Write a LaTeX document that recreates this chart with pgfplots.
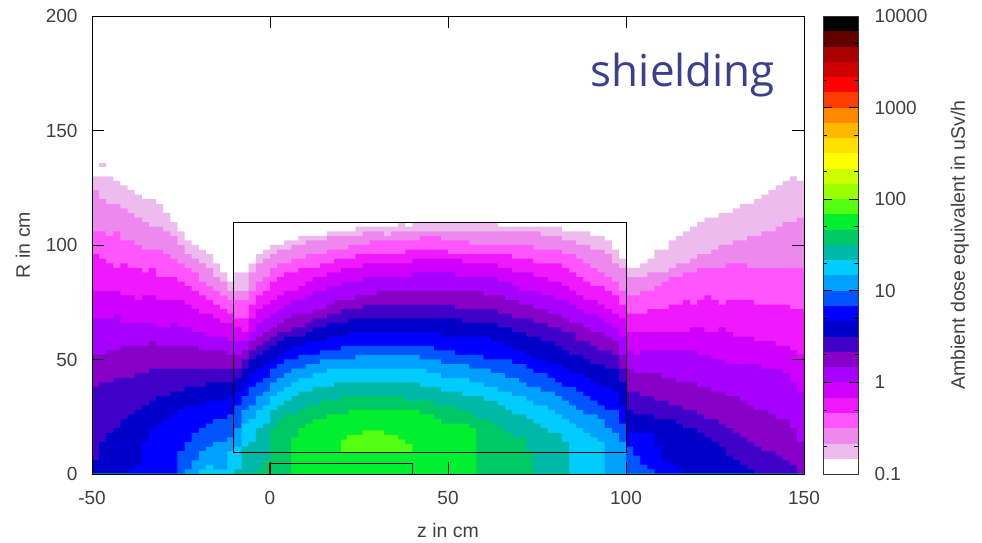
\documentclass[border=0pt]{standalone}
\usepackage{pgfplots}
\usepackage{pgfplotstable}
\usepackage{fontspec}
\setmainfont{Liberation Sans}
\newfontfamily\titlefont{Open Sans}
\pgfplotsset{compat=1.18}
\definecolor{txt}{HTML}{404040}
\definecolor{shield}{HTML}{3B3F8C}
\definecolor{c1}{HTML}{EEBBEE}\definecolor{c2}{HTML}{EE88EE}\definecolor{c3}{HTML}{FF55FF}
\definecolor{c4}{HTML}{F018FF}\definecolor{c5}{HTML}{D000FF}\definecolor{c6}{HTML}{A800FF}
\definecolor{c7}{HTML}{8800C8}\definecolor{c8}{HTML}{4000C8}\definecolor{c9}{HTML}{0000C8}
\definecolor{c10}{HTML}{0000FF}\definecolor{c11}{HTML}{0055FF}\definecolor{c12}{HTML}{00A0FF}
\definecolor{c13}{HTML}{00CCFF}\definecolor{c14}{HTML}{00B8A8}\definecolor{c15}{HTML}{00C864}
\definecolor{c16}{HTML}{00F030}\definecolor{c17}{HTML}{55FF10}\definecolor{c18}{HTML}{99FF00}
\definecolor{c19}{HTML}{CCFF00}\definecolor{c20}{HTML}{FFFF00}\definecolor{c21}{HTML}{FFE000}
\definecolor{c22}{HTML}{FFB800}\definecolor{c23}{HTML}{FF8800}\definecolor{c24}{HTML}{FF3C00}
\definecolor{c25}{HTML}{FF0000}\definecolor{c26}{HTML}{D00000}\definecolor{c27}{HTML}{A80000}
\definecolor{c28}{HTML}{600000}\definecolor{c29}{HTML}{000000}
\pgfplotstableread{
z a b c d e f g h i j k l m n o p
-50 130 124 106 96 80 68 52 38 6 0 0 0 0 0 0 0
-48 130 120 106 94 80 68 52 40 14 0 0 0 0 0 0 0
-46 130 118 104 92 80 68 54 40 18 0 0 0 0 0 0 0
-44 128 118 106 90 80 70 54 42 20 0 0 0 0 0 0 0
-42 126 116 102 92 78 66 56 42 24 0 0 0 0 0 0 0
-40 124 114 102 90 78 66 56 42 26 2 0 0 0 0 0 0
-38 122 112 100 90 76 66 56 44 28 4 0 0 0 0 0 0
-36 120 110 98 88 78 66 56 44 30 14 0 0 0 0 0 0
-34 120 108 98 90 78 66 58 46 32 20 0 0 0 0 0 0
-32 118 108 98 86 76 64 56 46 34 22 0 0 0 0 0 0
-30 114 106 96 86 76 64 56 46 34 24 0 0 0 0 0 0
-28 110 104 94 86 76 66 56 46 36 26 0 0 0 0 0 0
-26 106 100 92 84 76 64 56 46 36 28 10 0 0 0 0 0
-24 102 96 90 82 74 64 56 46 38 30 14 2 0 0 0 0
-22 100 94 88 80 72 62 56 46 38 30 18 6 0 0 0 0
-20 98 92 84 78 70 62 54 46 38 30 20 10 2 0 0 0
-18 96 90 82 76 70 60 54 46 40 32 22 12 4 0 0 0
-16 92 86 80 74 68 60 54 46 40 32 24 14 2 0 0 0
-14 88 84 78 72 66 60 54 46 40 32 24 14 2 0 0 0
-12 84 80 76 70 66 58 52 46 40 34 26 16 10 0 0 0
-10 88 80 76 68 64 58 52 46 42 36 30 20 12 2 0 0
-8 88 80 76 68 62 58 54 50 46 40 34 28 22 12 0 0
-6 92 88 80 74 68 62 58 54 50 44 38 30 24 14 0 0
-4 96 92 84 78 72 66 60 56 52 46 40 34 28 20 2 0
-2 98 94 86 80 74 68 62 58 54 48 42 36 30 22 6 0
0 100 96 90 84 76 70 64 60 56 50 46 40 34 28 20 0
2 100 98 92 86 78 72 66 62 58 52 48 42 36 30 24 0
4 102 98 92 88 80 74 68 62 60 54 50 44 38 32 26 0
6 102 100 94 88 80 76 70 64 60 56 50 46 40 34 26 16
8 104 100 94 90 82 76 70 64 60 56 52 46 42 36 28 20
10 104 102 96 90 84 78 70 66 62 58 52 48 42 36 30 22
12 104 102 96 90 86 80 72 68 64 58 52 48 44 38 30 24
14 104 102 96 92 86 80 72 68 64 58 54 50 44 38 32 24
16 106 104 98 92 88 82 74 70 66 60 54 50 46 38 32 26
18 106 104 98 94 88 82 76 70 66 60 54 50 46 40 32 26
20 106 104 98 94 90 84 76 72 66 60 56 50 46 40 34 26
22 106 104 100 94 90 84 76 72 68 62 56 50 46 40 34 28
24 108 104 100 96 90 84 78 72 68 62 56 52 46 40 34 28
26 108 106 100 96 92 86 78 74 68 62 56 52 46 40 34 28
28 108 106 102 96 92 86 78 74 68 62 56 52 46 40 34 28
30 108 106 102 96 92 86 80 74 68 62 56 52 46 40 34 28
32 108 104 102 96 92 86 80 74 68 62 56 52 46 40 34 28
34 108 106 102 96 92 86 80 74 68 62 56 52 46 40 34 28
36 110 106 102 96 92 86 80 74 68 62 56 52 46 40 34 28
38 108 106 102 98 92 86 80 74 68 62 56 52 46 40 32 28
40 110 106 102 98 94 88 80 74 68 62 56 52 46 40 32 28
42 110 106 104 98 94 88 80 74 68 62 56 50 46 38 32 26
44 110 106 104 98 94 88 80 74 68 62 56 50 44 38 32 26
46 110 106 104 98 94 88 80 74 68 62 54 50 44 38 30 24
48 110 106 102 98 94 88 80 74 68 60 54 48 42 36 30 22
50 110 106 102 96 94 88 80 74 68 60 54 48 42 36 30 22
52 110 106 102 96 94 86 80 72 68 60 52 48 42 36 28 22
54 110 106 102 96 92 86 80 72 66 60 52 48 42 34 28 22
56 110 106 100 96 92 86 80 72 66 60 52 46 40 34 26 20
58 110 106 100 96 92 86 80 72 66 60 52 46 40 34 24 0
60 110 106 100 96 92 86 78 72 66 60 50 46 38 32 24 0
62 110 106 100 96 92 86 78 72 66 58 50 44 38 32 22 0
64 108 106 100 96 90 84 78 70 64 58 50 44 36 30 20 0
66 108 106 100 96 90 84 76 70 64 56 50 42 36 28 18 0
68 108 106 100 94 88 82 76 68 62 54 48 42 34 26 16 0
70 108 106 100 94 88 80 74 68 62 54 48 40 34 26 16 0
72 108 106 100 94 88 80 74 68 60 52 46 38 32 24 10 0
74 108 106 98 92 86 80 72 66 60 50 44 38 30 22 0 0
76 108 104 98 92 86 78 72 66 58 50 44 36 30 20 0 0
78 108 104 98 92 84 78 70 64 58 48 42 36 28 18 0 0
80 108 104 98 92 84 76 70 64 56 48 40 34 26 18 0 0
82 106 102 96 90 82 76 68 62 54 46 38 32 24 14 0 0
84 106 102 96 88 80 74 66 62 52 44 38 30 22 0 0 0
86 106 100 94 86 78 72 66 58 52 44 36 28 20 0 0 0
88 106 100 92 84 76 70 64 58 50 42 34 26 18 0 0 0
90 104 98 90 82 76 70 62 56 48 40 32 26 16 0 0 0
92 104 98 88 82 74 68 62 54 48 38 30 24 14 0 0 0
94 102 96 86 80 72 66 60 54 46 38 28 20 0 0 0 0
96 98 92 84 78 70 64 58 52 46 36 28 18 0 0 0 0
98 94 90 80 74 68 60 52 46 40 30 22 14 0 0 0 0
100 90 86 78 70 62 54 46 36 28 18 12 0 0 0 0 0
102 90 86 78 70 62 52 44 36 26 18 8 0 0 0 0 0
104 92 86 80 70 62 54 44 34 26 18 4 0 0 0 0 0
106 94 88 80 72 62 54 44 34 26 18 2 0 0 0 0 0
108 98 88 82 72 62 54 44 32 24 12 0 0 0 0 0 0
110 98 88 84 72 62 54 42 32 24 6 0 0 0 0 0 0
112 102 90 86 74 62 54 42 30 24 4 0 0 0 0 0 0
114 104 92 86 74 62 54 40 30 22 2 0 0 0 0 0 0
116 106 92 88 76 62 54 40 28 20 0 0 0 0 0 0 0
118 108 94 88 74 64 54 40 28 20 0 0 0 0 0 0 0
120 110 96 90 76 64 52 38 26 18 0 0 0 0 0 0 0
122 112 96 90 78 62 52 38 24 16 0 0 0 0 0 0 0
124 112 98 90 76 62 50 36 24 14 0 0 0 0 0 0 0
126 114 100 90 74 64 50 36 22 12 0 0 0 0 0 0 0
128 114 100 92 76 62 48 34 20 8 0 0 0 0 0 0 0
130 116 102 92 76 60 48 34 18 6 0 0 0 0 0 0 0
132 118 102 92 76 60 48 32 16 4 0 0 0 0 0 0 0
134 118 104 90 76 60 48 30 14 2 0 0 0 0 0 0 0
136 120 104 90 74 58 48 28 12 0 0 0 0 0 0 0 0
138 122 106 90 74 58 46 28 10 0 0 0 0 0 0 0 0
140 124 106 90 74 58 46 26 10 0 0 0 0 0 0 0 0
142 126 108 90 74 56 46 24 8 0 0 0 0 0 0 0 0
144 128 110 90 74 56 44 24 6 0 0 0 0 0 0 0 0
146 130 110 90 72 54 40 20 4 0 0 0 0 0 0 0 0
148 128 112 90 72 52 36 14 0 0 0 0 0 0 0 0 0
150 128 112 90 72 52 36 14 0 0 0 0 0 0 0 0 0
}\bands
\pgfplotsset{band/.style={const plot mark left,draw=none,forget plot}}
\begin{document}
\begin{tikzpicture}[x=1pt,y=1pt]
\path[use as bounding box] (0,0) rectangle (982,543);
\begin{axis}[
  name=main,at={(92pt,69pt)},anchor=south west,
  scale only axis,width=712pt,height=458pt,
  xmin=-50,xmax=150,ymin=0,ymax=200,
  xtick={-50,0,50,100,150},xticklabels={-50,0,50,100,150},
  ytick={0,50,100,150,200},yticklabels={0,50,100,150,200},
  tick pos=both,tick align=inside,major tick length=12pt,
  tick style={black,line width=0.8pt},
  axis line style={black,line width=0.9pt},
  axis on top,
  tick label style={font=\fontsize{19}{21}\selectfont,text=txt},
  xticklabel style={yshift=-14pt},
  yticklabel style={xshift=-11pt},
  xlabel={z in cm},ylabel={R in cm},
  label style={font=\fontsize{19.5}{22}\selectfont,text=txt},
  xlabel style={at={(axis description cs:0.5,-0.1245)},anchor=center},
  ylabel style={at={(axis description cs:-0.097,0.5)},anchor=center},
]
\addplot[band,fill=c1] table[x index=0,y index=1]{\bands}\closedcycle;
\addplot[band,fill=c2] table[x index=0,y index=2]{\bands}\closedcycle;
\addplot[band,fill=c3] table[x index=0,y index=3]{\bands}\closedcycle;
\addplot[band,fill=c4] table[x index=0,y index=4]{\bands}\closedcycle;
\addplot[band,fill=c5] table[x index=0,y index=5]{\bands}\closedcycle;
\addplot[band,fill=c6] table[x index=0,y index=6]{\bands}\closedcycle;
\addplot[band,fill=c7] table[x index=0,y index=7]{\bands}\closedcycle;
\addplot[band,fill=c8] table[x index=0,y index=8]{\bands}\closedcycle;
\addplot[band,fill=c9] table[x index=0,y index=9]{\bands}\closedcycle;
\addplot[band,fill=c10] table[x index=0,y index=10]{\bands}\closedcycle;
\addplot[band,fill=c11] table[x index=0,y index=11]{\bands}\closedcycle;
\addplot[band,fill=c12] table[x index=0,y index=12]{\bands}\closedcycle;
\addplot[band,fill=c13] table[x index=0,y index=13]{\bands}\closedcycle;
\addplot[band,fill=c14] table[x index=0,y index=14]{\bands}\closedcycle;
\addplot[band,fill=c15] table[x index=0,y index=15]{\bands}\closedcycle;
\addplot[band,fill=c16] table[x index=0,y index=16]{\bands}\closedcycle;
\addplot[draw=none,fill=c17,forget plot] coordinates {(20,9.3)(20,15)(21.5,15)(21.5,17)(26,17)(26,19)(32,19)(32,17)(36,17)(36,15)(38,15)(38,13)(40,13)(40,9.3)} --cycle;
\addplot[draw=none,fill=c1,forget plot] coordinates {(-48,134)(-46,134)(-46,136)(-48,136)} --cycle;
\addplot[black,line width=0.8pt,forget plot] coordinates {(-10.4,9.3)(100,9.3)(100,109.7)(-10.4,109.7)(-10.4,9.3)};
\addplot[black,line width=0.8pt,forget plot] coordinates {(-0.3,0)(-0.3,4.5)(39.9,4.5)(39.9,0)};
\node[font=\titlefont\fontsize{44}{50}\selectfont,text=shield] at (axis cs:116,174) {shielding};
\end{axis}
\begin{axis}[
  at={(823pt,69pt)},anchor=south west,
  scale only axis,width=35pt,height=458pt,
  xmin=0,xmax=1,ymode=log,ymin=0.1,ymax=10000,
  xtick=\empty,
  ytick={0.1,1,10,100,1000,10000},yticklabels={0.1,1,10,100,1000,10000},
  minor ytick={0.2,0.5,2,5,20,50,200,500,2000,5000},
  tick pos=both,yticklabel pos=right,tick align=inside,
  major tick length=9pt,minor tick length=4pt,
  tick style={black,line width=0.7pt},
  axis line style={black!80,line width=0.9pt},
  axis on top,
  tick label style={font=\fontsize{19}{21}\selectfont,text=txt},
  yticklabel style={xshift=13pt},
  ylabel={Ambient dose equivalent in uSv/h},
  label style={font=\fontsize{19.5}{22}\selectfont,text=txt},
  ylabel style={at={(axis description cs:3.91,0.5)},anchor=center},
]
\addplot[draw=none,fill=c1,forget plot] coordinates {(0,0.147)(1,0.147)(1,0.215)(0,0.215)} --cycle;
\addplot[draw=none,fill=c2,forget plot] coordinates {(0,0.215)(1,0.215)(1,0.316)(0,0.316)} --cycle;
\addplot[draw=none,fill=c3,forget plot] coordinates {(0,0.316)(1,0.316)(1,0.464)(0,0.464)} --cycle;
\addplot[draw=none,fill=c4,forget plot] coordinates {(0,0.464)(1,0.464)(1,0.681)(0,0.681)} --cycle;
\addplot[draw=none,fill=c5,forget plot] coordinates {(0,0.681)(1,0.681)(1,1)(0,1)} --cycle;
\addplot[draw=none,fill=c6,forget plot] coordinates {(0,1)(1,1)(1,1.47)(0,1.47)} --cycle;
\addplot[draw=none,fill=c7,forget plot] coordinates {(0,1.47)(1,1.47)(1,2.15)(0,2.15)} --cycle;
\addplot[draw=none,fill=c8,forget plot] coordinates {(0,2.15)(1,2.15)(1,3.16)(0,3.16)} --cycle;
\addplot[draw=none,fill=c9,forget plot] coordinates {(0,3.16)(1,3.16)(1,4.64)(0,4.64)} --cycle;
\addplot[draw=none,fill=c10,forget plot] coordinates {(0,4.64)(1,4.64)(1,6.81)(0,6.81)} --cycle;
\addplot[draw=none,fill=c11,forget plot] coordinates {(0,6.81)(1,6.81)(1,10)(0,10)} --cycle;
\addplot[draw=none,fill=c12,forget plot] coordinates {(0,10)(1,10)(1,14.7)(0,14.7)} --cycle;
\addplot[draw=none,fill=c13,forget plot] coordinates {(0,14.7)(1,14.7)(1,21.5)(0,21.5)} --cycle;
\addplot[draw=none,fill=c14,forget plot] coordinates {(0,21.5)(1,21.5)(1,31.6)(0,31.6)} --cycle;
\addplot[draw=none,fill=c15,forget plot] coordinates {(0,31.6)(1,31.6)(1,46.4)(0,46.4)} --cycle;
\addplot[draw=none,fill=c16,forget plot] coordinates {(0,46.4)(1,46.4)(1,68.1)(0,68.1)} --cycle;
\addplot[draw=none,fill=c17,forget plot] coordinates {(0,68.1)(1,68.1)(1,100)(0,100)} --cycle;
\addplot[draw=none,fill=c18,forget plot] coordinates {(0,100)(1,100)(1,147)(0,147)} --cycle;
\addplot[draw=none,fill=c19,forget plot] coordinates {(0,147)(1,147)(1,215)(0,215)} --cycle;
\addplot[draw=none,fill=c20,forget plot] coordinates {(0,215)(1,215)(1,316)(0,316)} --cycle;
\addplot[draw=none,fill=c21,forget plot] coordinates {(0,316)(1,316)(1,464)(0,464)} --cycle;
\addplot[draw=none,fill=c22,forget plot] coordinates {(0,464)(1,464)(1,681)(0,681)} --cycle;
\addplot[draw=none,fill=c23,forget plot] coordinates {(0,681)(1,681)(1,1000)(0,1000)} --cycle;
\addplot[draw=none,fill=c24,forget plot] coordinates {(0,1000)(1,1000)(1,1470)(0,1470)} --cycle;
\addplot[draw=none,fill=c25,forget plot] coordinates {(0,1470)(1,1470)(1,2150)(0,2150)} --cycle;
\addplot[draw=none,fill=c26,forget plot] coordinates {(0,2150)(1,2150)(1,3160)(0,3160)} --cycle;
\addplot[draw=none,fill=c27,forget plot] coordinates {(0,3160)(1,3160)(1,4640)(0,4640)} --cycle;
\addplot[draw=none,fill=c28,forget plot] coordinates {(0,4640)(1,4640)(1,6810)(0,6810)} --cycle;
\addplot[draw=none,fill=c29,forget plot] coordinates {(0,6810)(1,6810)(1,10000)(0,10000)} --cycle;
\end{axis}
\end{tikzpicture}
\end{document}
